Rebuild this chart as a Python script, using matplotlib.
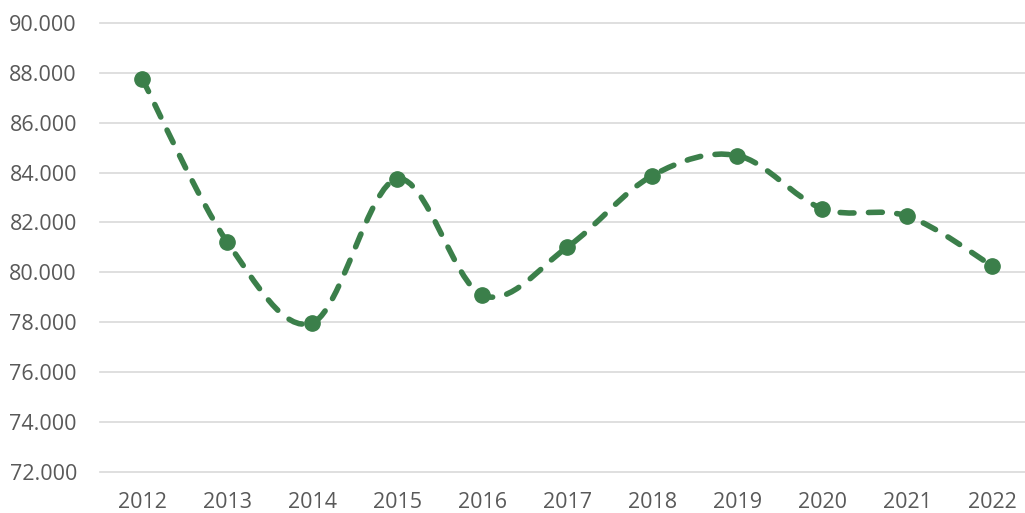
import numpy as np
import matplotlib
matplotlib.use("Agg")
import matplotlib.pyplot as plt
from matplotlib.path import Path
from matplotlib.patches import PathPatch

years = ["2012", "2013", "2014", "2015", "2016", "2017", "2018", "2019", "2020", "2021", "2022"]
values = [87.75, 81.21, 77.97, 83.75, 79.08, 81.01, 83.88, 84.68, 82.55, 82.25, 80.25]
yticks = [72, 74, 76, 78, 80, 82, 84, 86, 88, 90]
ytick_labels = ["72.000", "74.000", "76.000", "78.000", "80.000", "82.000",
                "84.000", "86.000", "88.000", "90.000"]

green = "#3b7f4a"
grid_c = "#d9d9d9"
text_c = "#595959"

plt.rcParams['font.family'] = ['Open Sans', 'DejaVu Sans']

W, H = 1025, 513
fig = plt.figure(figsize=(W / 100, H / 100), dpi=100)
left, right, top, bottom = 99.8, 1035.0, 23.0, 471.7
ax = fig.add_axes([left / W, (H - bottom) / H, (right - left) / W, (bottom - top) / H])

x = np.arange(len(years), dtype=float)
y = np.array(values, dtype=float)
n = len(x)

# Smoothed (Bezier) line through the data points, like a spreadsheet "smoothed line"
verts = [(x[0], y[0])]
codes = [Path.MOVETO]
for i in range(n - 1):
    a = i - 1 if i > 0 else 0
    d = i + 2 if i + 2 < n else n - 1
    c1 = (x[i] + (x[i + 1] - x[a]) / 6.0, y[i] + (y[i + 1] - y[a]) / 6.0)
    c2 = (x[i + 1] - (x[d] - x[i]) / 6.0, y[i + 1] - (y[d] - y[i]) / 6.0)
    verts += [c1, c2, (x[i + 1], y[i + 1])]
    codes += [Path.CURVE4] * 3

patch = PathPatch(Path(verts, codes), fill=False, edgecolor=green, lw=4.0,
                  linestyle=(0, (2.5, 2.6)), capstyle='round', joinstyle='round',
                  zorder=3)
ax.add_patch(patch)
ax.plot(x, y, linestyle='none', marker='o', markersize=11, color=green, zorder=4)

ax.set_xlim(-0.5, n - 0.5)
ax.set_ylim(72, 90)
ax.set_xticks(x, years)
ax.set_yticks(yticks, ytick_labels)
ax.tick_params(axis='both', length=0, labelsize=15.5, labelcolor=text_c)
ax.tick_params(axis='y', pad=16.5)
ax.tick_params(axis='x', pad=14.5)
for s in ax.spines.values():
    s.set_visible(False)
ax.yaxis.grid(True, color=grid_c, lw=1.2)
ax.set_axisbelow(True)
for gl in ax.get_ygridlines():
    gl.set_clip_on(False)

fig.savefig("out.png", dpi=100)
